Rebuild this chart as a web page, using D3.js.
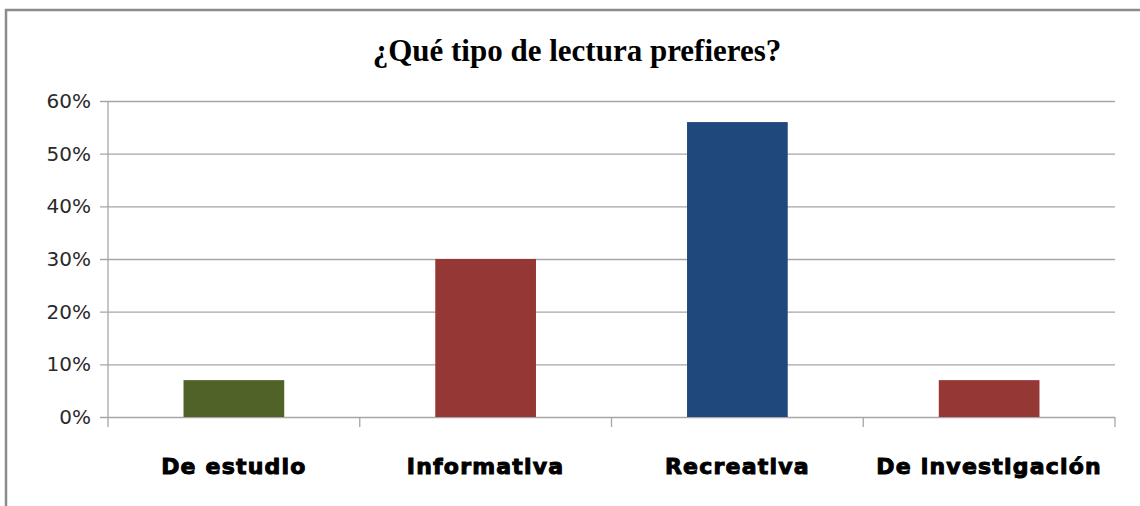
<!DOCTYPE html>
<html>
<head>
<meta charset="utf-8">
<script src="https://cdn.jsdelivr.net/npm/d3@7"></script>
<style>
  body { margin: 0; background: #fff; }
</style>
</head>
<body>
<script>
var categories = ["De estudio", "Informativa", "Recreativa", "De investigación"];
var values = [0.07, 0.30, 0.56, 0.07];
var colors = ["#4F6228", "#953735", "#1F497D", "#953735"];
var yTicks = [0, 0.1, 0.2, 0.3, 0.4, 0.5, 0.6];
var title = "¿Qué tipo de lectura prefieres?";

var svgWidth = 1140, svgHeight = 506;
var margin = { top: 101, right: 25, bottom: 89, left: 108 };
var w = svgWidth - margin.left - margin.right;
var h = svgHeight - margin.top - margin.bottom;

var svg = d3.select("body").append("svg")
  .attr("width", svgWidth)
  .attr("height", svgHeight);

// chart frame (cropped on the right/bottom)
svg.append("path")
  .attr("d", "M6,506 L6,10 L1140,10")
  .attr("fill", "none")
  .attr("stroke", "#8c8c8c")
  .attr("stroke-width", 2.5);

svg.append("text")
  .attr("x", 577)
  .attr("y", 61)
  .attr("text-anchor", "middle")
  .style("font-family", "'Liberation Serif', serif")
  .style("font-weight", "bold")
  .style("font-size", "31px")
  .text(title);

var g = svg.append("g").attr("transform", `translate(${margin.left},${margin.top})`);

var x = d3.scaleBand().domain(categories).range([0, w]).paddingInner(0.6).paddingOuter(0.3);
var y = d3.scaleLinear().domain([0, 0.6]).range([h, 0]);

// gridlines + y axis
var yaxis = d3.axisLeft(y).tickValues(yTicks).tickFormat(d3.format(".0%")).tickSize(-w).tickPadding(17);
var ya = g.append("g").call(yaxis);
ya.select(".domain").remove();
ya.selectAll(".tick line").attr("stroke", "#a6a6a6").attr("stroke-width", 1.3).attr("x1", -8);
ya.selectAll(".tick text")
  .style("font-family", "'DejaVu Sans', sans-serif")
  .style("font-size", "20px")
  .attr("fill", "#2a2a2a");

g.selectAll("rect.bar")
  .data(values)
  .enter()
  .append("rect")
  .attr("class", "bar")
  .attr("x", function(d, i){ return x(categories[i]); })
  .attr("width", x.bandwidth())
  .attr("y", function(d){ return y(d); })
  .attr("height", function(d){ return h - y(d); })
  .attr("fill", function(d, i){ return colors[i]; });

// vertical axis line
g.append("line")
  .attr("x1", 0).attr("x2", 0)
  .attr("y1", 0).attr("y2", h + 10)
  .attr("stroke", "#a6a6a6").attr("stroke-width", 1.3);

// category boundary ticks
var bounds = d3.range(1, categories.length + 1).map(function(i){ return i * w / categories.length; });
g.selectAll("line.ctick")
  .data(bounds)
  .enter()
  .append("line")
  .attr("class", "ctick")
  .attr("x1", function(d){ return d; }).attr("x2", function(d){ return d; })
  .attr("y1", h).attr("y2", h + 10)
  .attr("stroke", "#a6a6a6").attr("stroke-width", 1.3);

g.selectAll("text.cat")
  .data(categories)
  .enter()
  .append("text")
  .attr("class", "cat")
  .attr("x", function(d){ return x(d) + x.bandwidth() / 2; })
  .attr("y", h + 57)
  .attr("text-anchor", "middle")
  .style("font-family", "'DejaVu Sans', sans-serif")
  .style("font-weight", "bold")
  .style("font-size", "22px")
  .style("letter-spacing", "1.2px")
  .attr("stroke", "#000")
  .attr("stroke-width", 1)
  .text(function(d){ return d; });
</script>
</body>
</html>
